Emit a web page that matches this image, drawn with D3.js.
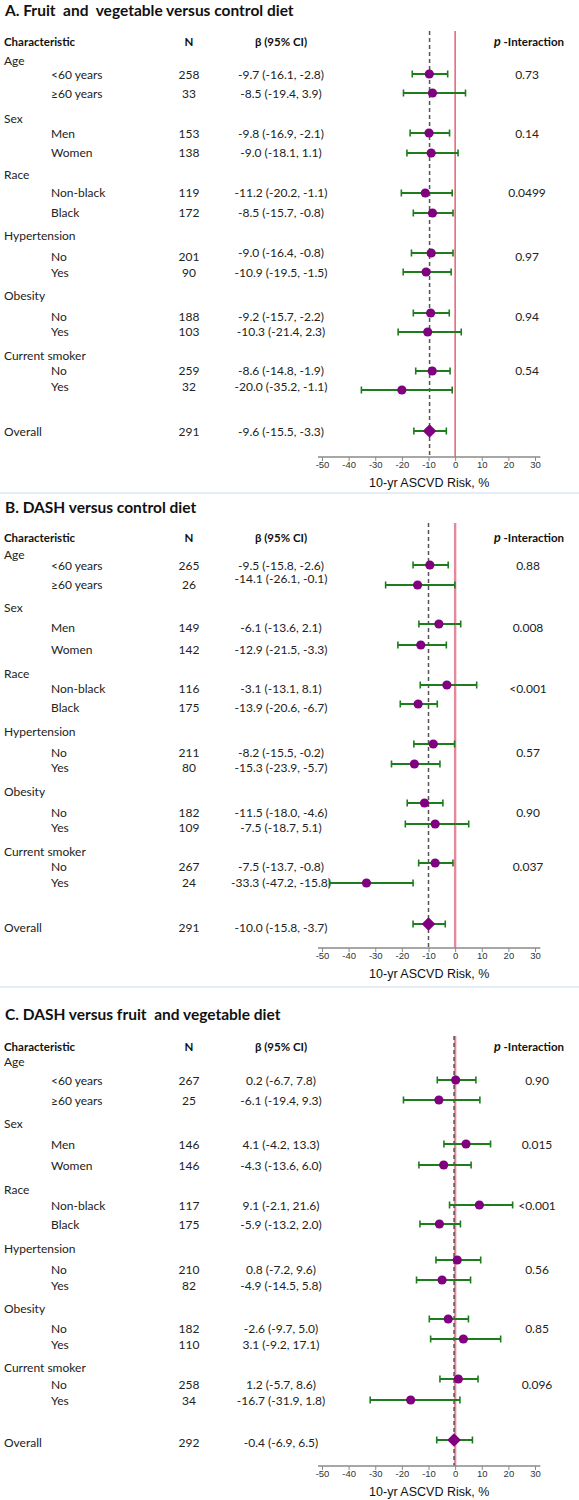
<!DOCTYPE html>
<html><head><meta charset="utf-8">
<script src="https://cdn.jsdelivr.net/npm/d3@7/dist/d3.min.js"></script>
<style>
body{margin:0;background:#fff;}
svg{display:block;}
</style></head>
<body>
<svg id="chart" width="579" height="1500"></svg>
<script>
// ---------------- DATA ----------------
const groups = ["Age", "Sex", "Race", "Hypertension", "Obesity", "Current smoker"];
const subgroups = ["<60 years", "≥60 years", "Men", "Women", "Non-black", "Black", "No", "Yes", "No", "Yes", "No", "Yes"];
const panelTitles = [
  "A. Fruit  and  vegetable versus control diet",
  "B. DASH versus control diet",
  "C. DASH versus fruit  and vegetable diet"
];
const tickValues = [-50, -40, -30, -20, -10, 0, 10, 20, 30];
const axisTitle = "10-yr ASCVD Risk, %";

// Panel A: Fruit and vegetable vs control
const nA   = [258, 33, 153, 138, 119, 172, 201, 90, 188, 103, 259, 32];
const estA = [-9.7, -8.5, -9.8, -9.0, -11.2, -8.5, -9.0, -10.9, -9.2, -10.3, -8.6, -20.0];
const loA  = [-16.1, -19.4, -16.9, -18.1, -20.2, -15.7, -16.4, -19.5, -15.7, -21.4, -14.8, -35.2];
const hiA  = [-2.8, 3.9, -2.1, 1.1, -1.1, -0.8, -0.8, -1.5, -2.2, 2.3, -1.9, -1.1];
const pA   = ["0.73", "0.14", "0.0499", "0.97", "0.94", "0.54"];
const overallA = {n: 291, est: -9.6, lo: -15.5, hi: -3.3};

// Panel B: DASH vs control
const nB   = [265, 26, 149, 142, 116, 175, 211, 80, 182, 109, 267, 24];
const estB = [-9.5, -14.1, -6.1, -12.9, -3.1, -13.9, -8.2, -15.3, -11.5, -7.5, -7.5, -33.3];
const loB  = [-15.8, -26.1, -13.6, -21.5, -13.1, -20.6, -15.5, -23.9, -18.0, -18.7, -13.7, -47.2];
const hiB  = [-2.6, -0.1, 2.1, -3.3, 8.1, -6.7, -0.2, -5.7, -4.6, 5.1, -0.8, -15.8];
const pB   = ["0.88", "0.008", "<0.001", "0.57", "0.90", "0.037"];
const overallB = {n: 291, est: -10.0, lo: -15.8, hi: -3.7};

// Panel C: DASH vs fruit and vegetable
const nC   = [267, 25, 146, 146, 117, 175, 210, 82, 182, 110, 258, 34];
const estC = [0.2, -6.1, 4.1, -4.3, 9.1, -5.9, 0.8, -4.9, -2.6, 3.1, 1.2, -16.7];
const loC  = [-6.7, -19.4, -4.2, -13.6, -2.1, -13.2, -7.2, -14.5, -9.7, -9.2, -5.7, -31.9];
const hiC  = [7.8, 9.3, 13.3, 6.0, 21.6, 2.0, 9.6, 5.8, 5.0, 17.1, 8.6, 1.8];
const pC   = ["0.90", "0.015", "<0.001", "0.56", "0.85", "0.096"];
const overallC = {n: 292, est: -0.4, lo: -6.9, hi: 6.5};

// ---------------- LAYOUT (not data) ----------------
const layouts = [
  { header: 41, title: -31, catY: [19, 77, 133, 194, 254, 314],
    subY: [33, 52, 92, 111, 151, 171, 215, 231, 275, 290, 329, 345], overallY: 390,
    dotDy: [0, 0, 0, 1, 1, 1, -3, 0, -3, 1, 1, 4], overallDy: 0,
    ciDy: [0, 0, 0, 0, 0, 0, -4, 0, 0, 0, 0, 0],
    axisY: 416, lineTop: -10, redW: 1.3, redC: "#e2475e", pX: 527 },
  { header: 537, title: -30, catY: [17, 70, 136, 194, 254, 314],
    subY: [28, 47, 90, 112, 151, 170, 215, 230, 275, 290, 329, 345], overallY: 390,
    dotDy: [0, 1, -3, -4, -3, -3, -8, -3, -9, -3, -3, 1], overallDy: -3,
    ciDy: [0, -6, 0, 0, 0, 0, 0, 0, 0, 0, 0, 0],
    axisY: 411, lineTop: -14, redW: 2.4, redC: "#e4899a", pX: 528 },
  { header: 1046, title: -32, catY: [15, 77, 143, 202, 262, 321],
    subY: [34, 54, 98, 119, 159, 178, 223, 239, 282, 298, 338, 354], overallY: 396,
    dotDy: [0, 0, 0, 0, 0, 0, -9, -5, -9, -5, -5, 0], overallDy: -2,
    ciDy: [0, 0, 0, 0, 0, 0, 0, 0, 0, 0, 0, 0],
    axisY: 420, lineTop: -10, redW: 2.4, redC: "#e4899a", pX: 537 }
];
const separators = [493, 987];

const panels = [
  {n: nA, est: estA, lo: loA, hi: hiA, p: pA, overall: overallA},
  {n: nB, est: estB, lo: loB, hi: hiB, p: pB, overall: overallB},
  {n: nC, est: estC, lo: loC, hi: hiC, p: pC, overall: overallC}
];

const svg = d3.select("#chart");
const x = d3.scaleLinear().domain([-50, 30]).range([322, 535]);
const colX = {cat: 4, sub: 51, n: 189, ci: 281, p: 527};
const txtFont = "Lato, 'Open Sans', sans-serif";
const axFont = "'Liberation Sans', Arial, sans-serif";
const green = "#1d7d1d", purple = "#800080";
const fmt = v => v.toFixed(1);

separators.forEach(y => {
  svg.append("line").attr("x1", 0).attr("x2", 579).attr("y1", y).attr("y2", y)
    .attr("stroke", "#c9dbee").attr("stroke-width", 1.2);
});

panels.forEach((P, pi) => {
  const L = layouts[pi];
  const g = svg.append("g").attr("transform", `translate(0,${L.header})`);
  const rows = P.n.map((n, i) => ({
    label: subgroups[i], n, est: P.est[i], lo: P.lo[i], hi: P.hi[i],
    y: L.subY[i], dy: L.dotDy[i], cy: L.ciDy[i]
  }));

  // Title
  g.append("text").attr("x", 5).attr("y", L.title).attr("dominant-baseline", "central")
    .attr("font-family", txtFont).attr("font-weight", 700).attr("font-size", 15.5)
    .attr("fill", "#111").style("white-space", "pre").text(panelTitles[pi]);

  // Header
  const hdr = g.append("g").attr("font-family", txtFont).attr("font-weight", 700)
    .attr("font-size", 11.5).attr("fill", "#111");
  hdr.append("text").attr("x", colX.cat).attr("y", 0).attr("dominant-baseline", "central").text("Characteristic");
  hdr.append("text").attr("x", colX.n).attr("y", 0).attr("text-anchor", "middle").attr("dominant-baseline", "central").text("N");
  hdr.append("text").attr("x", colX.ci).attr("y", 0).attr("text-anchor", "middle").attr("dominant-baseline", "central").text("β (95% CI)");
  const pt = hdr.append("text").attr("x", colX.p + 2).attr("y", 0).attr("text-anchor", "middle").attr("dominant-baseline", "central");
  pt.append("tspan").attr("font-style", "italic").attr("font-size", 12.5).text("p");
  pt.append("tspan").text(" -Interaction");

  const body = g.append("g").attr("font-family", txtFont).attr("font-size", 12).attr("fill", "#222");
  // Group labels + p-values
  groups.forEach((name, gi) => {
    body.append("text").attr("x", colX.cat).attr("y", L.catY[gi]).attr("dominant-baseline", "central").text(name);
    body.append("text").attr("x", L.pX).attr("y", L.subY[gi * 2]).attr("text-anchor", "middle")
      .attr("dominant-baseline", "central").text(P.p[gi]);
  });
  // Subgroup rows
  rows.forEach(r => {
    body.append("text").attr("x", colX.sub).attr("y", r.y).attr("dominant-baseline", "central").text(r.label);
    body.append("text").attr("x", colX.n).attr("y", r.y).attr("text-anchor", "middle").attr("dominant-baseline", "central").text(r.n);
    body.append("text").attr("x", colX.ci).attr("y", r.y + r.cy).attr("text-anchor", "middle").attr("dominant-baseline", "central")
      .text(`${fmt(r.est)} (${fmt(r.lo)}, ${fmt(r.hi)})`);
  });
  // Overall row text
  const O = P.overall;
  body.append("text").attr("x", colX.cat).attr("y", L.overallY).attr("dominant-baseline", "central").text("Overall");
  body.append("text").attr("x", colX.n).attr("y", L.overallY).attr("text-anchor", "middle").attr("dominant-baseline", "central").text(O.n);
  body.append("text").attr("x", colX.ci).attr("y", L.overallY).attr("text-anchor", "middle").attr("dominant-baseline", "central")
    .text(`${fmt(O.est)} (${fmt(O.lo)}, ${fmt(O.hi)})`);

  // Reference lines
  g.append("line").attr("x1", x(0)).attr("x2", x(0)).attr("y1", L.lineTop).attr("y2", L.axisY)
    .attr("stroke", L.redC).attr("stroke-width", L.redW);
  g.append("line").attr("x1", x(O.est)).attr("x2", x(O.est)).attr("y1", L.lineTop).attr("y2", L.axisY)
    .attr("stroke", "#555").attr("stroke-width", 1.5).attr("stroke-dasharray", "4,3");

  // CI bars
  const marks = g.append("g");
  const allRows = rows.concat([{est: O.est, lo: O.lo, hi: O.hi, y: L.overallY, dy: L.overallDy, overall: true}]);
  allRows.forEach(r => {
    const yy = r.y + r.dy;
    marks.append("line").attr("x1", x(r.lo)).attr("x2", x(r.hi)).attr("y1", yy).attr("y2", yy)
      .attr("stroke", green).attr("stroke-width", 2);
    [r.lo, r.hi].forEach(v => marks.append("line").attr("x1", x(v)).attr("x2", x(v))
      .attr("y1", yy - 3.5).attr("y2", yy + 3.5).attr("stroke", green).attr("stroke-width", 1.6));
    if (r.overall) {
      marks.append("path").attr("d", d3.symbol(d3.symbolDiamond2, 120)())
        .attr("transform", `translate(${x(r.est)},${yy})`).attr("fill", purple);
    } else {
      marks.append("circle").attr("cx", x(r.est)).attr("cy", yy).attr("r", 4.6).attr("fill", purple);
    }
  });

  // Axis
  const ax = g.append("g").attr("transform", `translate(0,${L.axisY})`);
  ax.call(d3.axisBottom(x).tickValues(tickValues).tickFormat(d => String(d)).tickSize(4).tickSizeOuter(0));
  ax.select(".domain").remove();
  ax.append("line").attr("x1", x(-51.5)).attr("x2", x(32)).attr("y1", 0).attr("y2", 0)
    .attr("stroke", "#8a8a8a").attr("stroke-width", 1.3);
  ax.selectAll(".tick line").attr("stroke", "#8a8a8a");
  ax.selectAll(".tick text").attr("font-family", axFont).attr("font-size", 9.5).attr("fill", "#333").attr("dy", "0.45em");
  g.append("text").attr("x", (x(-51.5) + x(32)) / 2).attr("y", L.axisY + 26).attr("text-anchor", "middle")
    .attr("dominant-baseline", "central").attr("font-family", axFont).attr("font-size", 12.5).attr("fill", "#111")
    .text(axisTitle);
});
</script>
</body></html>
